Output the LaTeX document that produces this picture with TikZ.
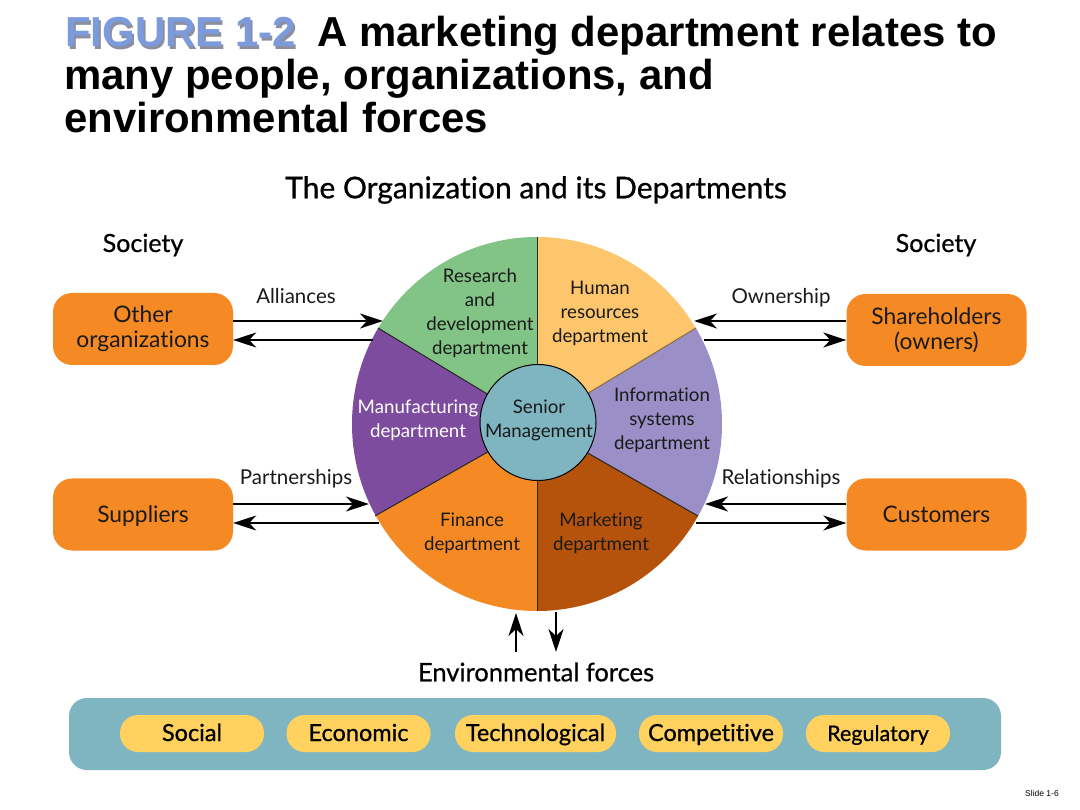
\documentclass[tikz,border=0pt]{standalone}
\usepackage{fontspec}
\setmainfont[Ligatures=NoCommon]{Lato}
\newfontfamily\semif[Ligatures=NoCommon,FakeBold=0.7]{Lato}
\newfontfamily\arialf{Liberation Sans}
\usetikzlibrary{arrows.meta}
\definecolor{orgbox}{HTML}{F58A24}
\definecolor{teal}{HTML}{7FB5C1}
\definecolor{yel}{HTML}{FFD25F}
\definecolor{grn}{HTML}{82C485}
\definecolor{hr}{HTML}{FDC66D}
\definecolor{pur}{HTML}{7D4C9F}
\definecolor{lav}{HTML}{9A8FC6}
\definecolor{brn}{HTML}{B5520B}
\definecolor{figblue}{HTML}{7B9BDD}
\definecolor{figshadow}{HTML}{8C8FA0}
\definecolor{ink}{HTML}{1A1A1A}
\tikzset{
  x=1pt,y=-1pt,
  conn/.style={draw=black,line width=1.5pt,-{Stealth[length=23pt,width=15pt,inset=7pt]}},
  orgnode/.style={fill=orgbox,rounded corners=19pt,minimum width=180pt,minimum height=72pt,align=center,inner sep=0pt,font=\fontsize{22.8}{25}\selectfont,text=ink},
  pill/.style={fill=yel,rounded corners=18pt,minimum height=37pt,inner sep=0pt,text height=20pt,text depth=5pt,font=\semif\fontsize{23.5}{25}\selectfont,text=black},
  lbl/.style={font=\fontsize{20.5}{24}\selectfont,text=ink,align=center,inner sep=0pt},
  dept/.style={lbl,font=\fontsize{18.7}{24}\selectfont},
  head/.style={font=\semif\fontsize{25}{28}\selectfont,text=black,inner sep=0pt},
  spoke/.style={draw=black!85,line width=1pt},
  ttl/.style={font=\arialf\fontsize{41.9}{43}\selectfont\bfseries,anchor=base west,inner sep=0pt,text=black},
}
\begin{document}
\begin{tikzpicture}
\useasboundingbox (0,0) rectangle (1080,810);
\fill[white] (0,0) rectangle (1080,810);
% title
\node[ttl] (figlabel) at (65,47) {\makebox[0pt][l]{\kern2pt\raisebox{-2.5pt}{\textcolor{figshadow}{FIGURE 1-2}}}\textcolor{figblue}{FIGURE 1-2}};
\node[ttl] (t1) at (317,47) {A marketing department relates to};
\node[ttl] (t2) at (64,90) {many people, organizations, and};
\node[ttl] (t3) at (64,133) {environmental forces};
\node[head,font=\semif\fontsize{30}{32}\selectfont] (main) at (536,190) {The Organization and its Departments};
\node[head] (s1) at (143,245) {Society};
\node[head] (s2) at (936,245) {Society};
% wheel
\coordinate (C) at (537,424);
\begin{scope}
\clip (537,424) ellipse [x radius=185,y radius=187];
\fill[grn] (C) -- (537,200) -- (300,200) -- (300,281) -- cycle;
\fill[hr] (C) -- (537,200) -- (780,200) -- (780,277.3) -- cycle;
\fill[pur] (C) -- (300,281) -- (300,558.6) -- cycle;
\fill[lav] (C) -- (780,277.3) -- (780,563) -- cycle;
\fill[orgbox] (C) -- (300,558.6) -- (300,650) -- (537,650) -- cycle;
\fill[brn] (C) -- (780,563) -- (780,650) -- (537,650) -- cycle;
\end{scope}
\coordinate (p1) at (537,237);
\coordinate (p2) at (537,611);
\coordinate (p3) at (378,328);
\coordinate (p4) at (696,328);
\coordinate (p5) at (375,516);
\coordinate (p6) at (698,516);
\draw[spoke] (p1) -- (p2);
\draw[spoke] (p3) -- (C);
\draw[spoke,draw=hr!55!black] (p4) -- (C);
\draw[spoke] (p5) -- (C);
\draw[spoke] (p6) -- (C);
\node[circle,fill=teal,draw=black,line width=1pt,minimum size=116pt,inner sep=0pt] (core) at (538,422.5) {};
\node[dept] (coret) at (539,420.5) {Senior\\Management};
\node[dept] (rd) at (480,313.5) {Research\\and\\development\\department};
\node[dept] (hrt) at (600,313.5) {Human\\resources\\department};
\node[dept,text=white] (mf) at (418,420.5) {Manufacturing\\department};
\node[dept] (is) at (662,420.5) {Information\\systems\\department};
\node[dept] (fin) at (472,533) {Finance\\department};
\node[dept] (mk) at (601,533) {Marketing\\department};
% boxes
\node[orgnode] (oo) at (143,329) {\raisebox{-1pt}{Other}\\\raisebox{-1pt}{organizations}};
\node[orgnode] (sh) at (936.5,330) {Shareholders\\(owners)};
\node[orgnode,text height=15pt,text depth=0pt] (su) at (143,514.5) {Suppliers};
\node[orgnode,text height=15pt,text depth=0pt] (cu) at (936.5,514.5) {Customers};
% connector ends
\coordinate (a1) at (383,321);
\coordinate (a2) at (373,340);
\coordinate (a3) at (694,321);
\coordinate (a4) at (704,340);
\coordinate (a5) at (369,504);
\coordinate (a6) at (379,523);
\coordinate (a7) at (705,504);
\coordinate (a8) at (696,523);
\draw[conn] (oo.east |- a1) -- (a1);
\draw[conn] (a2) -- (oo.east |- a2);
\draw[conn] (sh.west |- a3) -- (a3);
\draw[conn] (a4) -- (sh.west |- a4);
\draw[conn] (su.east |- a5) -- (a5);
\draw[conn] (a6) -- (su.east |- a6);
\draw[conn] (cu.west |- a7) -- (a7);
\draw[conn] (a8) -- (cu.west |- a8);
\node[lbl] (all) at (296,296.5) {Alliances};
\node[lbl] (own) at (781,298) {Ownership};
\node[lbl] (par) at (296,479) {Partnerships};
\node[lbl] (rel) at (781,479) {Relationships};
% environment
\node[head,font=\semif\fontsize{25.5}{28}\selectfont] (env) at (536,672) {Environmental forces};
\coordinate (e1) at (516,652);
\coordinate (e2) at (516,613);
\coordinate (e3) at (556,612);
\coordinate (e4) at (556,652);
\draw[conn] (e1) -- (e2);
\draw[conn] (e3) -- (e4);
\node[fill=teal,rounded corners=18pt,minimum width=932pt,minimum height=72pt,inner sep=0pt] (band) at (535,734) {};
\node[pill,minimum width=144pt] (p-soc) at (192,733.5) {Social};
\node[pill,minimum width=144pt] (p-eco) at (358.5,733.5) {Economic};
\node[pill,minimum width=161pt] (p-tec) at (535.5,733.5) {Technological};
\node[pill,minimum width=144pt] (p-com) at (711,733.5) {Competitive};
\node[pill,minimum width=144pt,font=\semif\fontsize{21.5}{25}\selectfont] (p-reg) at (878,733.5) {Regulatory};
\node[font=\arialf\fontsize{8.5}{10}\selectfont,inner sep=0pt,text=black] (sl) at (1042,793.5) {Slide 1-6};
\end{tikzpicture}
\end{document}
